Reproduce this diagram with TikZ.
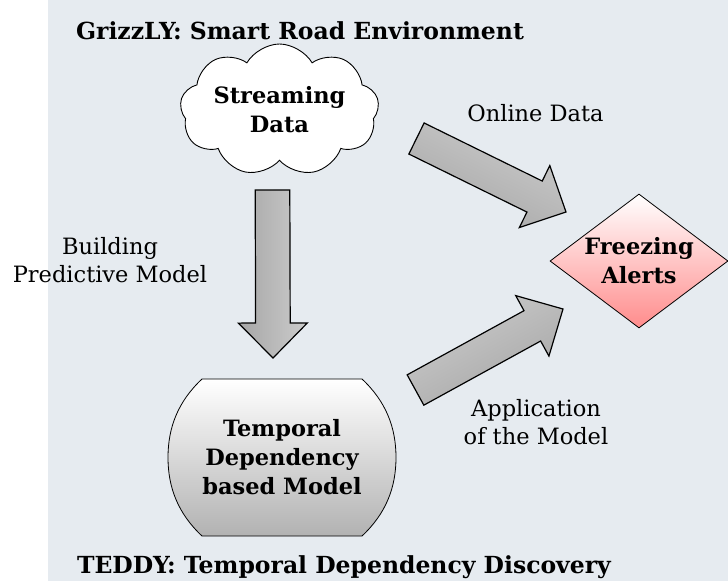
\documentclass[tikz,border=0pt]{standalone}
\usepackage{fontspec}
\setmainfont{DejaVu Serif}
\usetikzlibrary{calc,shapes.geometric,shapes.symbols}

\definecolor{panel}{RGB}{230,235,240}
\definecolor{arrowdark}{RGB}{166,166,166}
\definecolor{arrowlight}{RGB}{204,204,204}
\definecolor{alertred}{RGB}{255,140,140}
\definecolor{modelgray}{RGB}{178,178,178}

% fat block arrow from tail coordinate #1 to tip coordinate #2, extra style #3
\newcommand\blockarrow[3]{%
  \coordinate (hb) at ($(#2)!35pt!(#1)$);
  \draw[fatarrow,#3]
    ($(#1)!17.3pt!90:(#2)$) -- ($(hb)!17.3pt!90:(#2)$) -- ($(hb)!34.5pt!90:(#2)$)
    -- (#2)
    -- ($(hb)!34.5pt!-90:(#2)$) -- ($(hb)!17.3pt!-90:(#2)$) -- ($(#1)!17.3pt!-90:(#2)$)
    -- cycle;
}

\tikzset{
  plain/.style={font=\fontsize{22.5}{28}\selectfont, align=center, inner sep=0pt},
  heading/.style={font=\fontsize{23.5}{28}\selectfont\bfseries, align=center, inner sep=0pt},
  boldlabel/.style={font=\fontsize{22.5}{29}\selectfont\bfseries, align=center},
  fatarrow/.style={draw=black, line width=1.2pt, line join=miter},
}

\begin{document}
\begin{tikzpicture}[x=1pt, y=-1pt]
  \useasboundingbox (0,0) rectangle (728,581);
  \fill[panel] (48,0) rectangle (728,581);

  % titles
  \node[heading] (top) at (300,31) {GrizzLY: Smart Road Environment};
  \node[heading] (bottom) at (344,567) {TEDDY: Temporal Dependency Discovery};

  % data source: cloud outline, then its text
  \node[cloud, cloud puffs=9, cloud puff arc=120, aspect=1.55,
        draw=black, line width=0.9pt, fill=white,
        minimum width=199pt, minimum height=132pt, inner sep=0pt] (stream) at (279.5,110) {};
  \node[boldlabel] (streamtext) at (stream.center) {Streaming\\Data};

  % learned model: flat top and bottom, bowed sides
  \coordinate (mc) at (282,457.5);
  \shade[shift={(mc)}, draw=black, line width=0.8pt, top color=white, bottom color=modelgray]
    (-80,-78.5) -- (80,-78.5)
    .. controls (104,-56) and (114,-30) .. (114,0)
    .. controls (114,30) and (104,56) .. (80,78.5)
    -- (-80,78.5)
    .. controls (-104,56) and (-114,30) .. (-114,0)
    .. controls (-114,-30) and (-104,-56) .. (-80,-78.5) -- cycle;
  \node[boldlabel] (model) at (mc) {Temporal\\Dependency\\based Model};

  % alerts
  \node[diamond, draw=black, line width=0.8pt, top color=white, bottom color=alertred,
        minimum width=178pt, minimum height=134pt, shape aspect=1.33, inner sep=0pt,
        boldlabel] (alerts) at (639,261) {Freezing\\Alerts};

  % arrow end points
  \coordinate (downtail) at (272.5,190);
  \coordinate (downtip) at (273,358);
  \coordinate (onlinetail) at (416.5,138.5);
  \coordinate (onlinetip) at (566,212);
  \coordinate (applytail) at (415.5,390);
  \coordinate (applytip) at (563,309);

  \blockarrow{downtail}{downtip}{left color=arrowdark, right color=arrowlight}
  \blockarrow{onlinetail}{onlinetip}{top color=arrowlight, bottom color=arrowdark, shading angle=-26}
  \blockarrow{applytail}{applytip}{top color=arrowlight, bottom color=arrowdark, shading angle=29}

  % arrow labels
  \node[plain] (buildlbl) at (110,260) {Building\\Predictive Model};
  \node[plain] (onlinelbl) at (535.5,113) {Online Data};
  \node[plain] (applylbl) at (536,422) {Application\\of the Model};
\end{tikzpicture}
\end{document}
